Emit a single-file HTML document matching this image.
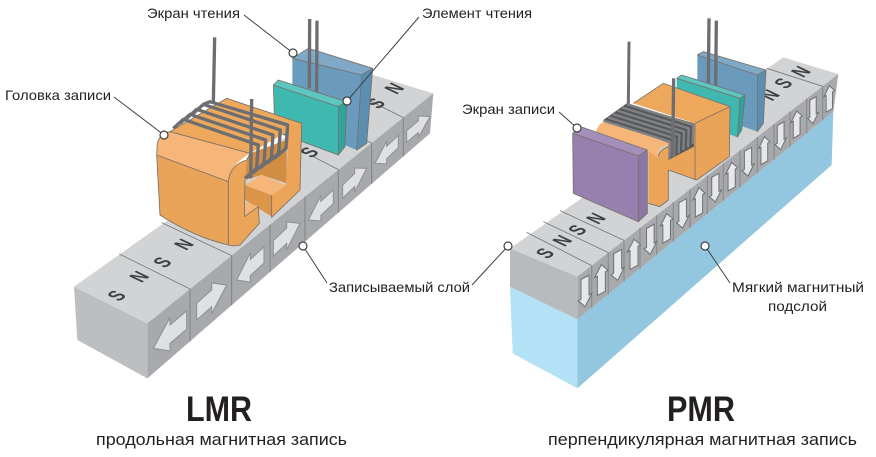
<!DOCTYPE html>
<html lang="ru">
<head>
<meta charset="utf-8">
<title>LMR и PMR</title>
<style>
html,body{margin:0;padding:0;background:#fff;}
svg{display:block;}
.l{font-family:"Liberation Sans",sans-serif;font-size:14px;fill:#231f20;}
.m{font-family:"Liberation Sans",sans-serif;font-size:50px;font-weight:bold;fill:#3f4042;text-anchor:middle;}
.o{fill:none;stroke:#77706a;stroke-width:2.5;stroke-linejoin:round;}
</style>
</head>
<body>
<svg width="876" height="457" viewBox="0 0 876 457" xmlns="http://www.w3.org/2000/svg">
<defs>
<polygon id="ar" points="0,-.55 .5,-.55 .5,-1 1,0 .5,1 .5,.55 0,.55" fill="#dfe0e1" stroke="#8d8f91" stroke-width="1" vector-effect="non-scaling-stroke"/>
<polygon id="up" points="0,-1 1,-.35 .6,-.35 .6,1 -.6,1 -.6,-.35 -1,-.35" fill="#e6e7e8" stroke="#6f7073" stroke-width="1" vector-effect="non-scaling-stroke"/>
</defs>

<!-- LMR -->
<g transform="translate(60,0) scale(.33333)">
<polygon points="42,860 262,970 1120,280 940,225" fill="#d1d3d4"/>
<polygon points="42,860 262,970 262,1135 52,1020" fill="#bcbec0"/>
<polygon points="262,970 1120,280 1110,400 262,1135" fill="#a7a9ac"/>
<path d="M390,867L390,1024M515,767L515,916M630,674L630,816M735,590L735,725M835,509L835,638M935,429L935,552M1030,353L1030,469" stroke="#808285" stroke-width="3" fill="none"/>
<path d="M178,762L390,867M305,668L515,767M835,509L760,470M935,429L860,395M1030,353L925,300" stroke="#77787b" stroke-width="2.5" fill="none"/>
<text class="m" transform="matrix(.72,-.56,1.15,.55,170,887)" y="17">S</text>
<text class="m" transform="matrix(.72,-.56,1.15,.55,238,830)" y="17">N</text>
<text class="m" transform="matrix(.72,-.56,1.15,.55,307,787)" y="17">S</text>
<text class="m" transform="matrix(.72,-.56,1.15,.55,372,733)" y="17">N</text>
<text class="m" transform="matrix(.72,-.56,1.15,.55,748,457)" y="17">S</text>
<text class="m" transform="matrix(.72,-.56,1.15,.55,948,310)" y="17">S</text>
<text class="m" transform="matrix(.72,-.56,1.15,.55,1003,265)" y="17">N</text>

<use href="#ar" transform="matrix(-100,85,0,50,380,960)"/>
<use href="#ar" transform="matrix(90,-80,0,46,410,935)"/>
<use href="#ar" transform="matrix(-82,75,0,44,612,765)"/>
<use href="#ar" transform="matrix(80,-75,0,42,640,745)"/>
<use href="#ar" transform="matrix(-75,70,0,38,820,590)"/>
<use href="#ar" transform="matrix(72,-70,0,36,848,575)"/>
<use href="#ar" transform="matrix(-70,65,0,34,1015,425)"/>
<use href="#ar" transform="matrix(70,-60,0,32,1040,410)"/>

<!-- reader shield -->
<polygon points="697,175 745,145 938,205 905,225" fill="#7fa9c6"/>
<polygon points="697,175 905,225 890,450 697,370" fill="#6a9bbd"/>
<polygon points="905,225 938,205 920,430 890,450" fill="#5a8fb0"/>
<path d="M697,175L745,145L938,205L920,430L890,450L905,225L697,175M938,205L905,225" class="o"/>
<path d="M749,57L748,265M771,62L770,275" stroke="#6d6e71" stroke-width="10" fill="none"/>
<!-- reader element -->
<polygon points="640,255 835,320 835,465 645,395" fill="#3fb8af"/>
<polygon points="640,255 655,240 860,305 835,320" fill="#5cc7c0"/>
<polygon points="835,320 860,305 855,440 835,465" fill="#2fa39e"/>
<path d="M640,255L655,240L860,305L855,440L835,465L645,395ZM640,255L835,320L835,465M835,320L860,305" class="o"/>

<!-- head -->
<path d="M464,112L460,310" stroke="#6d6e71" stroke-width="10" fill="none"/>
<polygon points="330,395 500,295 725,370 570,460" fill="#eda85c"/>
<polygon points="570,460 680,420 680,550 605,525 555,540 560,480" fill="#d18d44"/>
<polygon points="685,380 725,370 720,570 635,652 635,585 678,555 682,475" fill="#eba458"/>
<polygon points="553,555 605,525 678,555 635,585" fill="#f6b679"/>
<polygon points="553,555 635,585 635,650 555,600" fill="#dc9649"/>
<polygon points="553,605 595,620 553,650" fill="#f6b679"/>
<path d="M290,465L505,545L505,735Q400,710 300,645Z" fill="#e9a45a"/>
<path d="M290,465L292,430Q300,400 330,395L570,460Q510,495 505,545Z" fill="#f6b679"/>
<path d="M505,545Q510,495 560,480L555,540L553,650L595,620L598,670L540,735Q520,740 505,735Z" fill="#eba458"/>
<path d="M290,465L505,545L505,735Q400,710 300,645ZM505,545Q510,495 560,480L570,460L330,395Q300,400 292,430L290,465M555,540L553,650L595,620L598,670L540,735Q520,740 505,735M635,585V652L720,570L725,370L500,295L330,395" class="o"/>
<path d="M340,385L370,358L595,435L590,505L555,535M360,370L390,343L617,420L612,490L577,520M380,355L410,328L639,405L634,475L599,505M400,340L430,313L661,390L656,460L621,490M430,313L450,305L683,375L678,445L643,475" fill="none" stroke="#6d6e71" stroke-width="10" stroke-linejoin="round"/>
<path d="M575,297L572,535" stroke="#6d6e71" stroke-width="10" fill="none"/>
</g>

<!-- PMR -->
<g transform="translate(490,0) scale(.33333)">
<polygon points="60,860 262,958 262,1165 68,1060" fill="#b3e1f6"/>
<polygon points="262,958 1030,335 1025,495 262,1165" fill="#93c6df"/>
<polygon points="60,745 262,830 1045,222 880,172" fill="#d1d3d4"/>
<polygon points="60,745 262,830 262,958 60,860" fill="#b9babc"/>
<polygon points="262,830 1045,222 1030,335 262,958" fill="#a7a9ac"/>
<path d="M305,797V923M355,758V883M402,721V844M450,684V806M500,645V765M550,606V724M600,568V684M652,527V642M700,490V603M750,451V562M802,411V520M852,372V480M900,335V441M950,296V400M998,259V361" stroke="#8d8f91" stroke-width="4" fill="none"/>
<path d="M110,697L305,797M160,665L355,758M210,632L402,721M830,205L998,259" stroke="#77787b" stroke-width="2.5" fill="none"/>
<text class="m" transform="matrix(.72,-.56,1.15,.55,165,760)" y="17">S</text>
<text class="m" transform="matrix(.72,-.56,1.15,.55,217,722)" y="17">N</text>
<text class="m" transform="matrix(.72,-.56,1.15,.55,262,690)" y="17">S</text>
<text class="m" transform="matrix(.72,-.56,1.15,.55,318,655)" y="17">N</text>
<text class="m" transform="matrix(.72,-.56,1.15,.55,840,285)" y="17">N</text>
<text class="m" transform="matrix(.72,-.56,1.15,.55,880,250)" y="17">S</text>
<text class="m" transform="matrix(.72,-.56,1.15,.55,933,215)" y="17">N</text>

<use href="#up" transform="matrix(20,-11,0,-44,285,876)"/>
<use href="#up" transform="matrix(20,-11,0,43,334,837)"/>
<use href="#up" transform="matrix(20,-11,0,-43,383,798)"/>
<use href="#up" transform="matrix(20,-11,0,42,432,760)"/>
<use href="#up" transform="matrix(19,-11,0,-42,481,721)"/>
<use href="#up" transform="matrix(19,-11,0,41,530,682)"/>
<use href="#up" transform="matrix(19,-11,0,-41,578,643)"/>
<use href="#up" transform="matrix(18,-10,0,41,627,604)"/>
<use href="#up" transform="matrix(18,-10,0,-40,676,566)"/>
<use href="#up" transform="matrix(18,-10,0,40,725,527)"/>
<use href="#up" transform="matrix(18,-10,0,-40,774,488)"/>
<use href="#up" transform="matrix(17,-10,0,39,823,449)"/>
<use href="#up" transform="matrix(17,-10,0,-39,872,410)"/>
<use href="#up" transform="matrix(17,-10,0,38,920,371)"/>
<use href="#up" transform="matrix(16,-9,0,-38,969,333)"/>
<use href="#up" transform="matrix(16,-9,0,37,1018,294)"/>

<!-- reader shield -->
<polygon points="622,165 640,155 828,210 802,225" fill="#7fa9c6"/>
<polygon points="622,165 802,225 802,395 622,330" fill="#6a9bbd"/>
<polygon points="802,225 828,210 820,370 802,395" fill="#5a8fb0"/>
<path d="M622,165L640,155L828,210L820,370L802,395V225L622,165M828,210L802,225" class="o"/>
<path d="M657,55L655,250M679,62L677,258" stroke="#6d6e71" stroke-width="10" fill="none"/>
<!-- reader element -->
<polygon points="560,235 575,225 765,285 750,295" fill="#5cc7c0"/>
<polygon points="560,235 750,295 742,412 560,340" fill="#3fb8af"/>
<polygon points="750,295 765,285 755,390 742,412" fill="#2fa39e"/>
<path d="M560,235L575,225L765,285L755,390L742,412M560,235L750,295L742,412M750,295L765,285" class="o"/>

<!-- head -->
<path d="M417,125L415,315" stroke="#6d6e71" stroke-width="9" fill="none"/>
<polygon points="430,310 520,250 720,320 615,370" fill="#eda85c"/>
<polygon points="530,420 615,370 720,320 718,470 620,540 535,510" fill="#e9a45a"/>
<path d="M505,470Q510,445 540,440L535,510V600L510,620L475,610V450Z" fill="#eba458"/>
<path d="M318,395Q325,370 345,365L540,430L510,445Q505,455 505,475L472,450Z" fill="#f6b679"/>
<path d="M430,310L520,250L720,320L718,470L620,540L535,510M615,370L720,320M615,370V540M505,470Q510,445 540,440M535,510V600L510,620L475,610" class="o"/>
<polygon points="340,360 410,310 612,370 612,440 535,480 540,430" fill="#58595b"/>
<path d="M340,362L540,425L538,478M354,352L554,415L552,470M368,342L568,405L566,460M382,332L582,395L580,450M396,322L596,385L594,442M410,312L610,375L608,432" fill="none" stroke="#808285" stroke-width="7" stroke-linejoin="round"/>
<path d="M551,235L548,472" stroke="#6d6e71" stroke-width="10" fill="none"/>

<!-- write shield -->
<polygon points="248,400 272,380 472,450 445,468" fill="#a48fba"/>
<polygon points="248,400 445,468 445,665 250,580" fill="#9681ae"/>
<polygon points="445,468 472,450 472,640 445,665" fill="#8b76a5"/>
<path d="M248,400L272,380L472,450L472,640L445,665L250,580ZM248,400L445,468V665M445,468L472,450" class="o"/>
</g>

<!-- leaders -->
<g stroke="#3f4042" stroke-width="1" fill="none">
<path d="M244,15L293,53M419,17L347,101M114,97L164,135M303,246L327,283M559,112L577,128M472,285L508,246M705,246L730,283"/>
</g>
<g fill="#fff" stroke="#3f4042" stroke-width="1.2">
<circle cx="293" cy="53" r="4"/>
<circle cx="347" cy="101" r="4"/>
<circle cx="164" cy="135" r="4"/>
<circle cx="303" cy="246" r="4"/>
<circle cx="577" cy="128" r="4"/>
<circle cx="508" cy="246" r="4"/>
<circle cx="705" cy="246" r="4"/>
</g>

<!-- labels -->
<text class="l" x="147" y="18" textLength="93" lengthAdjust="spacingAndGlyphs">Экран чтения</text>
<text class="l" x="422" y="18" textLength="110" lengthAdjust="spacingAndGlyphs">Элемент чтения</text>
<text class="l" x="5" y="100" textLength="106" lengthAdjust="spacingAndGlyphs">Головка записи</text>
<text class="l" x="329" y="292" textLength="141" lengthAdjust="spacingAndGlyphs">Записываемый слой</text>
<text class="l" x="462" y="114" textLength="93" lengthAdjust="spacingAndGlyphs">Экран записи</text>
<text class="l" x="732" y="292" textLength="132" lengthAdjust="spacingAndGlyphs">Мягкий магнитный</text>
<text class="l" x="768" y="311" textLength="59" lengthAdjust="spacingAndGlyphs">подслой</text>
<text x="186" y="421" textLength="66" lengthAdjust="spacingAndGlyphs" font-family="Liberation Sans, sans-serif" font-size="35" font-weight="bold" fill="#231f20">LMR</text>
<text x="667" y="421" textLength="68" lengthAdjust="spacingAndGlyphs" font-family="Liberation Sans, sans-serif" font-size="35" font-weight="bold" fill="#231f20">PMR</text>
<text x="96" y="445" textLength="251" lengthAdjust="spacingAndGlyphs" font-family="Liberation Sans, sans-serif" font-size="17" fill="#231f20">продольная магнитная запись</text>
<text x="548" y="445" textLength="309" lengthAdjust="spacingAndGlyphs" font-family="Liberation Sans, sans-serif" font-size="17" fill="#231f20">перпендикулярная магнитная запись</text>
</svg>
</body>
</html>
